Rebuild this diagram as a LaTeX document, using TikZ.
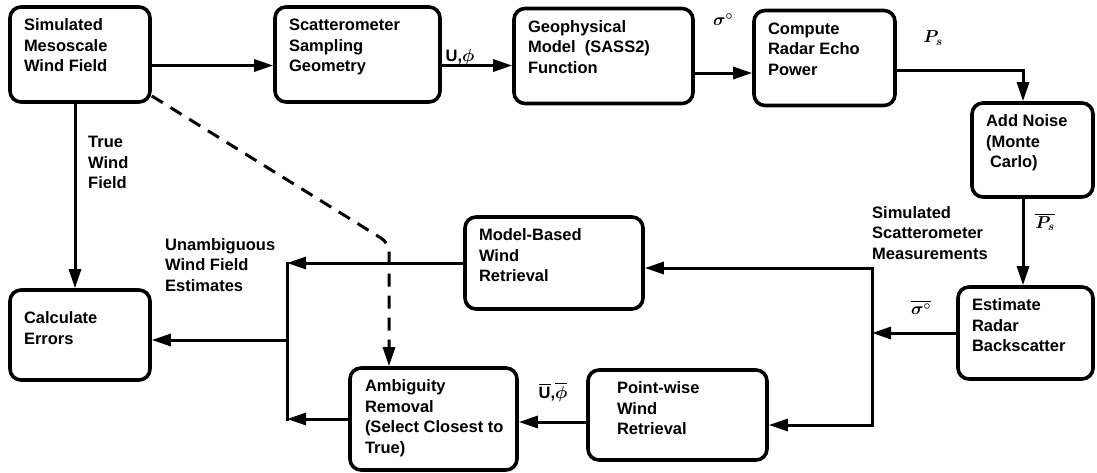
\documentclass[tikz,border=0pt]{standalone}
\usepackage{amsmath}
\usepackage{fontspec}
\setmainfont{Liberation Sans}
\usetikzlibrary{arrows.meta}

\begin{document}
\begin{tikzpicture}[x=1pt, y=-1pt,
    every node/.style={font=\fontsize{16.5}{20.5}\selectfont\bfseries\boldmath},
    blk/.style={draw, line width=3.6pt, rounded corners=11pt, inner xsep=14pt, inner ysep=12pt},
    txt/.style={inner sep=0pt, align=left, anchor=north west},
    lab/.style={inner sep=0pt},
    ln/.style={line width=3pt},
    arr/.style={ln, -{Triangle[length=19pt, width=12pt]}},
    dsh/.style={arr, dash pattern=on 13pt off 9pt, rounded corners=9pt}]
    \useasboundingbox (0,0) rectangle (1097,472);
    % boxes
    \node[blk] (sim) at (80,54.5) {\parbox[t][71pt][t]{112pt}{Simulated\\Mesoscale\\Wind Field}};
    \node[blk] (scat) at (357.5,54.5) {\parbox[t][71pt][t]{137pt}{Scatterometer\\Sampling\\Geometry}};
    \node[blk] (geo) at (603.5,56) {\parbox[t][71pt][t]{151pt}{Geophysical\\Model\ \ (SASS2)\\Function}};
    \node[blk] (comp) at (824.5,58) {\parbox[t][71pt][t]{113pt}{Compute\\Radar Echo\\Power}};
    \node[blk] (addn) at (1032.5,150) {\parbox[t][70pt][t]{93pt}{Add Noise\\(Monte\\\hspace*{4pt}Carlo)}};
    \node[blk] (est) at (1025.5,333) {\parbox[t][68pt][t]{107pt}{Estimate\\Radar\\Backscatter}};
    \node[blk] (model) at (554,263) {\parbox[t][68pt][t]{150pt}{Model-Based\\Wind\\Retrieval}};
    \node[blk] (point) at (677.5,415) {\parbox[t][66pt][t]{151pt}{\leftskip=15pt Point-wise\\Wind\\Retrieval}};
    \node[blk, inner xsep=8pt] (amb) at (433.5,419) {\parbox[t][78pt][t]{151pt}{\leftskip=7pt Ambiguity\\Removal\\(Select Closest to\\True)}};
    \node[blk] (calc) at (80,335) {\parbox[t][66pt][t]{112pt}{\vspace*{10pt}Calculate\\Errors}};
    % top row
    \coordinate (s1) at ([yshift=-11pt]sim.east);
    \coordinate (s2) at ([yshift=-11pt]scat.east);
    \coordinate (s3) at ([yshift=-17pt]geo.east);
    \coordinate (s4) at ([yshift=-12pt]comp.east);
    \coordinate (nx) at (1023,0);
    \draw[arr] (s1) -- (s1 -| scat.west);
    \draw[arr] (s2) -- (s2 -| geo.west);
    \draw[arr] (s3) -- (s3 -| comp.west);
    \draw[arr] (s4) -| (nx |- addn.north);
    \draw[arr] (nx |- addn.south) -- (nx |- est.north);
    % right junction
    \coordinate (ja) at (872,268);
    \coordinate (jb) at (872,425);
    \draw[arr] (est.west) -- (est.west -| ja);
    \draw[arr] (jb) -- (ja) -- (ja -| model.east);
    \draw[arr] (ja) -- (jb) -- (jb -| point.east);
    \coordinate (pa) at ([yshift=-7pt]point.west);
    \draw[arr] (pa) -- (pa -| amb.east);
    % left junction
    \coordinate (lx) at (287,0);
    \coordinate (lc) at (287,340);
    \draw[ln, line cap=rect] (model.west -| lx) -- (amb.west -| lx);
    \draw[arr] (model.west) -- (model.west -| lx);
    \draw[arr] (amb.west) -- (amb.west -| lx);
    \draw[arr] (lc) -- (lc -| calc.east);
    % true wind field
    \draw[arr] ([xshift=-5pt]sim.south) -- ([xshift=-5pt]calc.north);
    \coordinate (dk) at (389,243);
    \draw[dsh] (sim.-30) -- (dk) -- (dk |- amb.north);
    % labels
    \node[lab] (lbluphi) at (460,57) {U,$\phi$};
    \node[lab] (lblsig) at (723,20) {$\sigma^{\circ}$};
    \node[lab] (lblps) at (933,38) {$P_s$};
    \node[lab] (lblpsbar) at (1045,222) {$\overline{P_s}$};
    \node[lab] (lblsigbar) at (921,307) {$\overline{\sigma^{\circ}}$};
    \node[lab] (lbluphibar) at (553,392) {$\overline{\mbox{U}}$,$\overline{\phi}$};
    \node[txt] (lbltrue) at (88,136) {True\\Wind\\Field};
    \node[txt] (lblunamb) at (165,238) {Unambiguous\\Wind Field\\Estimates};
    \node[txt] (lblmeas) at (872,206) {Simulated\\Scatterometer\\Measurements};
\end{tikzpicture}
\end{document}
